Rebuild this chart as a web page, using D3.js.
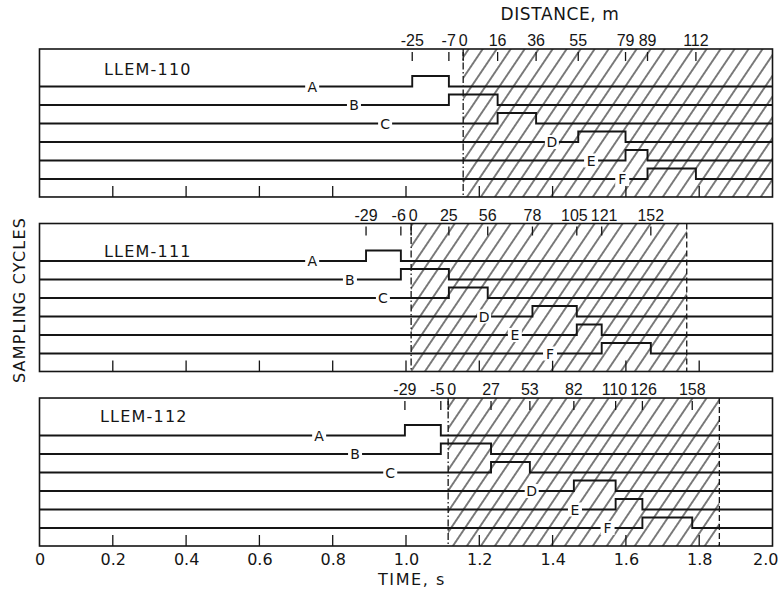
<!DOCTYPE html>
<html>
<head>
<meta charset="utf-8">
<script src="https://cdn.jsdelivr.net/npm/d3@7"></script>
<style>
  body { margin: 0; background: #fff; }
  text { font-family: "DejaVu Sans", sans-serif; fill: #151515; }
</style>
</head>
<body>
<svg id="chart" width="779" height="596"></svg>
<script>
// three test runs, six samplers each
var panelNames = ["LLEM-110", "LLEM-111", "LLEM-112"];
var samplers = ["A", "B", "C", "D", "E", "F"];
var timeTicks = [0, 0.2, 0.4, 0.6, 0.8, 1.0, 1.2, 1.4, 1.6, 1.8, 2.0];

// distance marks (m) along the top of each panel, and the time (s) they sit at
var distLabels = [
    [-25, -7, 0, 16, 36, 55, 79, 89, 112],
    [-29, -6, 0, 25, 56, 78, 105, 121, 152],
    [-29, -5, 0, 27, 53, 82, 110, 126, 158]
];
var distTimes = [
    [1.017, 1.117, 1.156, 1.250, 1.355, 1.470, 1.599, 1.659, 1.791],
    [0.891, 0.986, 1.014, 1.117, 1.223, 1.345, 1.466, 1.534, 1.668],
    [0.997, 1.095, 1.115, 1.232, 1.338, 1.458, 1.572, 1.645, 1.781]
];

// each sampler is open between two distance marks
var openFrom = [
    [-25, -7, 16, 55, 79, 89],
    [-29, -6, 25, 78, 105, 121],
    [-29, -5, 27, 82, 110, 126]
];
var openTo = [
    [-7, 16, 36, 79, 89, 112],
    [-6, 25, 56, 105, 121, 152],
    [-5, 27, 53, 110, 126, 158]
];

// hatched zone ends here (2.0 = runs to the frame)
var hatchEnd = [2.0, 1.766, 1.855];

// where the sampler letters sit on their lines (s)
var letterTimes = [
    [0.744, 0.858, 0.943, 1.398, 1.505, 1.590],
    [0.744, 0.847, 0.937, 1.213, 1.297, 1.393],
    [0.763, 0.861, 0.957, 1.343, 1.461, 1.550]
];

var svg = d3.select("#chart");
var ink = "#151515";

var x = d3.scaleLinear().domain([0, 2]).range([39.5, 772.5]);
var panel = d3.scaleBand().domain(panelNames).range([49, 546]).paddingInner(0.152);
var row = d3.scalePoint().domain(samplers).range([37.5, 130]);
var pulse = 10.5;
var nameDy = [26, 33.5, 23.5];

var defs = svg.append("defs");
defs.append("pattern")
    .attr("id", "hatch")
    .attr("patternUnits", "userSpaceOnUse")
    .attr("width", 11.6)
    .attr("height", 11.6)
    .attr("patternTransform", "rotate(34)")
    .append("line")
    .attr("x1", 5.8).attr("y1", 0)
    .attr("x2", 5.8).attr("y2", 11.6)
    .style("stroke", "#111")
    .style("stroke-width", 1.1);

var line = d3.line()
    .x(function (d) { return x(d[0]); })
    .y(function (d) { return d[1]; });

panelNames.forEach(function (name, p) {
    var top = panel(name);
    var h = panel.bandwidth();
    var g = svg.append("g").attr("transform", "translate(0," + top + ")");

    var tOf = function (dist) { return distTimes[p][distLabels[p].indexOf(dist)]; };
    var zero = tOf(0);

    // hatched zone
    g.append("rect")
        .attr("x", x(zero))
        .attr("y", 0)
        .attr("width", x(hatchEnd[p]) - x(zero))
        .attr("height", h)
        .style("fill", "url(#hatch)");

    // frame
    g.append("rect")
        .attr("x", x(0)).attr("y", 0)
        .attr("width", x(2) - x(0)).attr("height", h)
        .style("fill", "none")
        .style("stroke", ink)
        .style("stroke-width", 1.6);

    // zero distance, dash-dot
    g.append("line")
        .attr("x1", x(zero)).attr("x2", x(zero))
        .attr("y1", 0).attr("y2", h)
        .style("stroke", ink)
        .style("stroke-width", 1.3)
        .style("stroke-dasharray", "7,2.5,1.5,2.5");

    if (hatchEnd[p] < 2) {
        g.append("line")
            .attr("x1", x(hatchEnd[p])).attr("x2", x(hatchEnd[p]))
            .attr("y1", 0).attr("y2", h)
            .style("stroke", ink)
            .style("stroke-width", 1.3)
            .style("stroke-dasharray", "6,3");
    }

    // time ticks rising from the bottom
    g.selectAll(".tt")
        .data(timeTicks.slice(1, -1))
        .enter().append("line")
        .attr("x1", function (d) { return x(d); })
        .attr("x2", function (d) { return x(d); })
        .attr("y1", h)
        .attr("y2", h - 11)
        .style("stroke", ink)
        .style("stroke-width", 1.3);

    // distance ticks and labels at the top
    g.selectAll(".dt")
        .data(distTimes[p])
        .enter().append("line")
        .attr("x1", function (d) { return x(d); })
        .attr("x2", function (d) { return x(d); })
        .attr("y1", 3)
        .attr("y2", 12)
        .style("stroke", ink)
        .style("stroke-width", 1.3);

    var labs = g.selectAll(".dl")
        .data(distLabels[p])
        .enter().append("text")
        .attr("x", function (d, i) { return x(distTimes[p][i]); })
        .attr("y", -3)
        .attr("text-anchor", "middle")
        .style("font-family", "\"Liberation Sans\", sans-serif")
        .style("font-size", "16px")
        .text(function (d) { return d; });

    // push crowded labels apart, like the hand-lettered original
    var boxes = labs.nodes().map(function (n, i) {
        return { node: n, x: x(distTimes[p][i]), w: n.getComputedTextLength() };
    });
    for (var k = 0; k < 30; k++) {
        for (var i = 1; i < boxes.length; i++) {
            var a = boxes[i - 1], b = boxes[i];
            var over = (a.x + a.w / 2 + 3) - (b.x - b.w / 2);
            if (over > 0) { a.x -= over / 2; b.x += over / 2; }
        }
    }
    boxes.forEach(function (b) { d3.select(b.node).attr("x", b.x); });

    // sampler traces
    samplers.forEach(function (s, i) {
        var y0 = row(s);
        var t1 = tOf(openFrom[p][i]);
        var t2 = tOf(openTo[p][i]);
        var pts = [[0, y0], [t1, y0], [t1, y0 - pulse], [t2, y0 - pulse], [t2, y0], [2, y0]];
        g.append("path")
            .attr("d", line(pts))
            .style("fill", "none")
            .style("stroke", ink)
            .style("stroke-width", 1.9);

        g.append("rect")
            .attr("x", x(letterTimes[p][i]) - 7)
            .attr("y", y0 - 7)
            .attr("width", 14)
            .attr("height", 14)
            .style("fill", "#fff");

        g.append("text")
            .attr("x", x(letterTimes[p][i]))
            .attr("y", y0 + 5)
            .attr("text-anchor", "middle")
            .style("font-size", "14px")
            .text(s);
    });

    g.append("text")
        .attr("x", p == 2 ? 100 : 104)
        .attr("y", nameDy[p])
        .style("font-size", "16px")
        .style("letter-spacing", "1.2px")
        .text(name);
});

// time axis under the last panel
var axis = d3.axisBottom(x)
    .tickValues(timeTicks)
    .tickSize(0)
    .tickPadding(8)
    .tickFormat(function (d) { return d === 0 ? "0" : d3.format(".1f")(d); });

var ax = svg.append("g")
    .attr("transform", "translate(0," + (panel.range()[1]) + ")")
    .call(axis);
ax.select(".domain").remove();
ax.selectAll("text")
    .style("font-size", "16px")
    .style("font-family", "\"DejaVu Sans\", sans-serif")
    .style("fill", ink);
ax.selectAll(".tick:last-of-type text")
    .attr("text-anchor", "end")
    .attr("x", 5.5);

svg.append("text")
    .attr("x", 412)
    .attr("y", 585)
    .attr("text-anchor", "middle")
    .style("font-size", "16px")
    .style("letter-spacing", "1.6px")
    .text("TIME, s");

svg.append("text")
    .attr("x", 560)
    .attr("y", 20)
    .attr("text-anchor", "middle")
    .style("font-size", "17px")
    .style("letter-spacing", "0.6px")
    .text("DISTANCE, m");

svg.append("text")
    .attr("transform", "translate(25,300) rotate(-90)")
    .attr("text-anchor", "middle")
    .style("font-size", "16px")
    .style("letter-spacing", "1.2px")
    .text("SAMPLING CYCLES");
</script>
</body>
</html>
